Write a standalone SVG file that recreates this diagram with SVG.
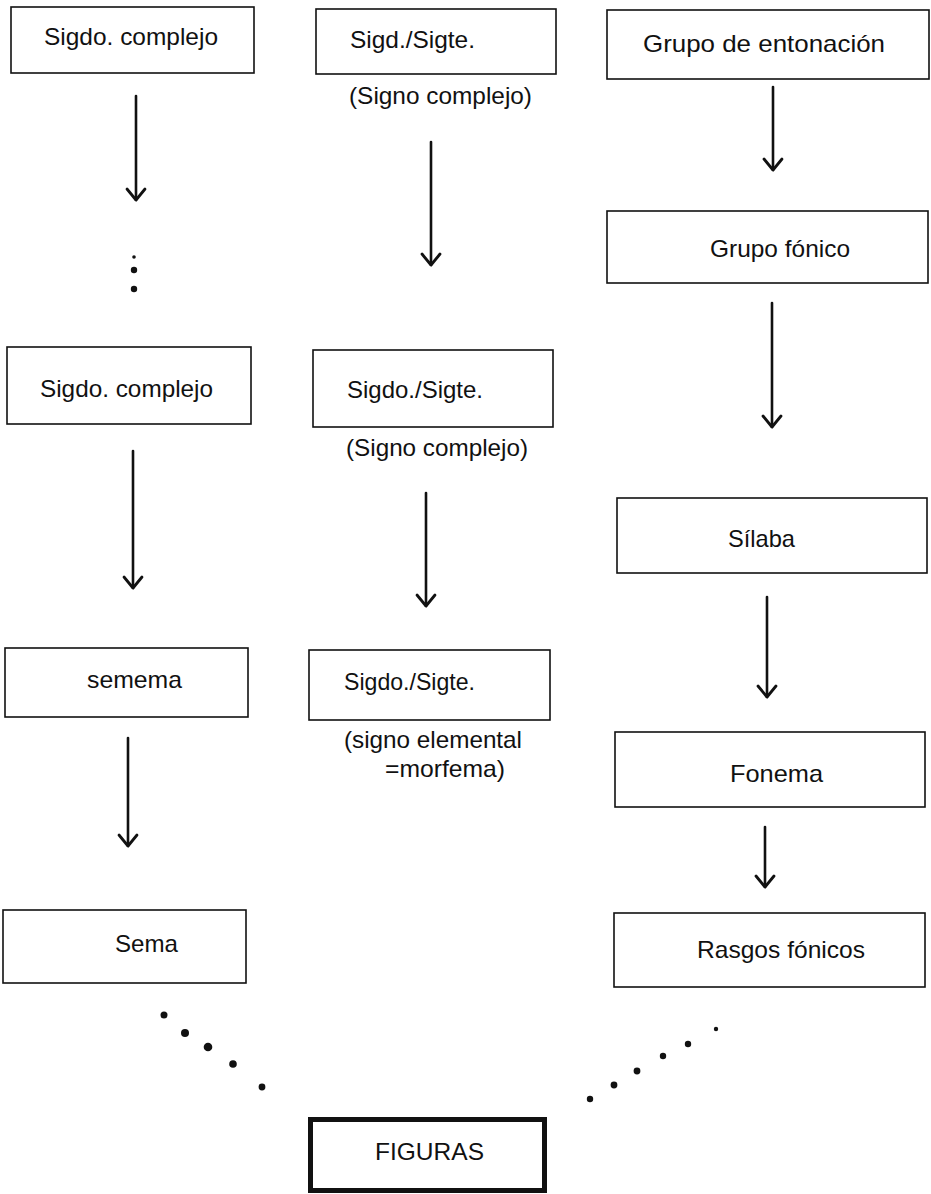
<svg xmlns="http://www.w3.org/2000/svg" width="931" height="1194" viewBox="0 0 931 1194">
<defs>
<style>
.box{fill:#fff;stroke:#111;stroke-width:1.6}
.fig{fill:#fff;stroke:#111;stroke-width:5}
.t{font-family:"Liberation Sans",Arial,sans-serif;font-size:24px;fill:#111}
.c{fill:none;stroke:#111;stroke-width:2.6;stroke-linecap:round;stroke-linejoin:round}
.d{fill:#111}
</style>
<marker id="ah" viewBox="0 0 16 22" refX="14" refY="11" markerWidth="16" markerHeight="22" markerUnits="userSpaceOnUse" orient="auto">
<path d="M3 2 L14 11 L3 20" fill="none" stroke="#111" stroke-width="2.8" stroke-linecap="round" stroke-linejoin="round"/>
</marker>
</defs>
<rect width="931" height="1194" fill="#fff"/>
<g id="connectors">
<line class="c" x1="136" y1="96" x2="136" y2="200" marker-end="url(#ah)"/>
<line class="c" x1="431" y1="142" x2="431" y2="265" marker-end="url(#ah)"/>
<line class="c" x1="773" y1="87" x2="773" y2="170" marker-end="url(#ah)"/>
<line class="c" x1="133" y1="451" x2="133" y2="588" marker-end="url(#ah)"/>
<line class="c" x1="426" y1="493" x2="426" y2="606" marker-end="url(#ah)"/>
<line class="c" x1="772" y1="303" x2="772" y2="427" marker-end="url(#ah)"/>
<line class="c" x1="767" y1="597" x2="767" y2="697" marker-end="url(#ah)"/>
<line class="c" x1="128" y1="738" x2="128" y2="846" marker-end="url(#ah)"/>
<line class="c" x1="765" y1="827" x2="765" y2="887" marker-end="url(#ah)"/>
</g>
<g id="ellipsis-left-col">
<circle class="d" cx="134" cy="257" r="1.8"/>
<circle class="d" cx="134" cy="270" r="3.2"/>
<circle class="d" cx="134" cy="289" r="3.2"/>
</g>
<g id="ellipsis-bottom-left">
<circle class="d" cx="164" cy="1015" r="3.5"/>
<circle class="d" cx="185" cy="1033" r="4"/>
<circle class="d" cx="208" cy="1047" r="4.3"/>
<circle class="d" cx="233" cy="1064" r="3.8"/>
<circle class="d" cx="262" cy="1087" r="3.4"/>
</g>
<g id="ellipsis-bottom-right">
<circle class="d" cx="590" cy="1099" r="3.2"/>
<circle class="d" cx="614" cy="1085" r="3.4"/>
<circle class="d" cx="637" cy="1071" r="3.4"/>
<circle class="d" cx="663" cy="1056" r="3.2"/>
<circle class="d" cx="688" cy="1044" r="3.2"/>
<circle class="d" cx="716" cy="1029" r="2.2"/>
</g>
<g id="n-sigdo-complejo-1">
<rect class="box" x="11" y="7" width="243" height="66"/>
<text class="t" x="44" y="45" textLength="174" lengthAdjust="spacingAndGlyphs">Sigdo. complejo</text>
</g>
<g id="n-sigd-sigte-1">
<rect class="box" x="316" y="9" width="240" height="65"/>
<text class="t" x="350" y="48" textLength="125" lengthAdjust="spacingAndGlyphs">Sigd./Sigte.</text>
<text class="t" x="349" y="104" textLength="183" lengthAdjust="spacingAndGlyphs">(Signo complejo)</text>
</g>
<g id="n-grupo-entonacion">
<rect class="box" x="607" y="10" width="322" height="69"/>
<text class="t" x="643" y="52" textLength="242" lengthAdjust="spacingAndGlyphs">Grupo de entonación</text>
</g>
<g id="n-grupo-fonico">
<rect class="box" x="607" y="211" width="321" height="72"/>
<text class="t" x="710" y="257" textLength="140" lengthAdjust="spacingAndGlyphs">Grupo fónico</text>
</g>
<g id="n-sigdo-complejo-2">
<rect class="box" x="7" y="347" width="244" height="77"/>
<text class="t" x="40" y="397" textLength="173" lengthAdjust="spacingAndGlyphs">Sigdo. complejo</text>
</g>
<g id="n-sigdo-sigte-2">
<rect class="box" x="313" y="350" width="240" height="77"/>
<text class="t" x="347" y="398" textLength="136" lengthAdjust="spacingAndGlyphs">Sigdo./Sigte.</text>
<text class="t" x="346" y="456" textLength="182" lengthAdjust="spacingAndGlyphs">(Signo complejo)</text>
</g>
<g id="n-silaba">
<rect class="box" x="617" y="498" width="310" height="75"/>
<text class="t" x="728" y="547" textLength="67" lengthAdjust="spacingAndGlyphs">Sílaba</text>
</g>
<g id="n-semema">
<rect class="box" x="5" y="648" width="243" height="69"/>
<text class="t" x="87" y="688" textLength="95" lengthAdjust="spacingAndGlyphs">semema</text>
</g>
<g id="n-sigdo-sigte-3">
<rect class="box" x="309" y="650" width="241" height="70"/>
<text class="t" x="344" y="690" textLength="131" lengthAdjust="spacingAndGlyphs">Sigdo./Sigte.</text>
<text class="t" x="344" y="748" textLength="178" lengthAdjust="spacingAndGlyphs">(signo elemental</text>
<text class="t" x="385" y="777" textLength="120" lengthAdjust="spacingAndGlyphs">=morfema)</text>
</g>
<g id="n-fonema">
<rect class="box" x="615" y="732" width="310" height="75"/>
<text class="t" x="730" y="782" textLength="93" lengthAdjust="spacingAndGlyphs">Fonema</text>
</g>
<g id="n-sema">
<rect class="box" x="3" y="910" width="243" height="73"/>
<text class="t" x="115" y="952" textLength="63" lengthAdjust="spacingAndGlyphs">Sema</text>
</g>
<g id="n-rasgos-fonicos">
<rect class="box" x="614" y="913" width="311" height="74"/>
<text class="t" x="697" y="958" textLength="168" lengthAdjust="spacingAndGlyphs">Rasgos fónicos</text>
</g>
<g id="n-figuras">
<rect class="fig" x="310.5" y="1119.5" width="234" height="71"/>
<text class="t" x="375" y="1160" textLength="109" lengthAdjust="spacingAndGlyphs">FIGURAS</text>
</g>
</svg>
